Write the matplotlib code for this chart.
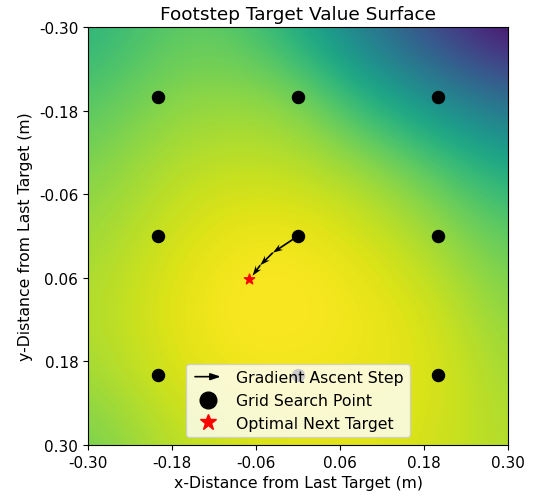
import numpy as np
from matplotlib import pyplot as plt
from matplotlib.lines import Line2D
from matplotlib.patches import FancyArrowPatch
from matplotlib.legend_handler import HandlerBase

# value surface, normalised 0..1 (rows: y from -0.3 to 0.3, cols: x from -0.3 to 0.3)
grid_x = [-0.3, -0.2, -0.1, 0.0, 0.1, 0.2, 0.3]
grid_y = [-0.3, -0.2, -0.1, 0.0, 0.1, 0.2, 0.3]
surface = [
    [0.63, 0.73, 0.75, 0.60, 0.38, 0.18, 0.0],
    [0.72, 0.81, 0.84, 0.82, 0.63, 0.47, 0.33],
    [0.80, 0.88, 0.91, 0.90, 0.85, 0.74, 0.60],
    [0.85, 0.92, 0.975, 0.985, 0.94, 0.86, 0.75],
    [0.88, 0.95, 1.00, 1.00, 0.98, 0.93, 0.82],
    [0.86, 0.93, 0.98, 0.98, 0.97, 0.95, 0.86],
    [0.78, 0.88, 0.92, 0.95, 0.95, 0.93, 0.88],
]

# grid search points
search_x = [-0.2, 0.0, 0.2, -0.2, 0.0, 0.2, -0.2, 0.0, 0.2]
search_y = [-0.2, -0.2, -0.2, 0.0, 0.0, 0.0, 0.2, 0.2, 0.2]

# gradient ascent path, starting from the best grid point
path_x = [0.0, -0.036, -0.054, -0.065]
path_y = [0.0, 0.024, 0.042, 0.057]

best_x = -0.07
best_y = 0.062

ticks = [-0.30, -0.18, -0.06, 0.06, 0.18, 0.30]


class ArrowHandler(HandlerBase):
    def create_artists(self, legend, orig_handle, xdescent, ydescent,
                       width, height, fontsize, trans):
        y = height / 2 - ydescent
        p = FancyArrowPatch((-xdescent, y), (width - xdescent, y),
                            arrowstyle='-|>,head_length=0.6,head_width=0.2',
                            mutation_scale=10, color='k', lw=1.2)
        p.set_transform(trans)
        return [p]


fig = plt.figure(figsize=(5.37, 5.02), dpi=100)
ax = fig.add_axes([0.164, 0.1116, 0.782, 0.8327])

step = 0.1
ax.imshow(np.array(surface), cmap='viridis', vmin=0, vmax=1,
          interpolation='bicubic', origin='upper', aspect='auto',
          extent=[grid_x[0] - step / 2, grid_x[-1] + step / 2,
                  grid_y[-1] + step / 2, grid_y[0] - step / 2])

ax.scatter(search_x, search_y, s=75, color='k', zorder=3)

px = np.array(path_x)
py = np.array(path_y)
ax.quiver(px[:-1], py[:-1], np.diff(px), np.diff(py), angles='xy',
          scale_units='xy', scale=1, color='k', width=0.004,
          headwidth=4, headlength=6, zorder=4)

ax.scatter([best_x], [best_y], marker='*', s=60, color='red', zorder=5)

ax.set_xlim(-0.3, 0.3)
ax.set_ylim(0.3, -0.3)
ax.set_xticks(ticks)
ax.set_yticks(ticks)
ax.set_xticklabels(['%.2f' % t for t in ticks], fontsize=11)
ax.set_yticklabels(['%.2f' % t for t in ticks], fontsize=11)
ax.set_xlabel('x-Distance from Last Target (m)', fontsize=11.3)
ax.set_ylabel('y-Distance from Last Target (m)', fontsize=11.3)
ax.set_title('Footstep Target Value Surface', fontsize=13.3)

arrow_handle = FancyArrowPatch((0, 0), (1, 0))
handles = [
    arrow_handle,
    Line2D([], [], marker='o', color='k', linestyle='none', markersize=12),
    Line2D([], [], marker='*', color='red', linestyle='none', markersize=12),
]
labels = ['Gradient Ascent Step', 'Grid Search Point', 'Optimal Next Target']
ax.legend(handles, labels, loc='lower center', fontsize=11.3,
          handler_map={FancyArrowPatch: ArrowHandler()})

plt.savefig('out.png', dpi=100)
